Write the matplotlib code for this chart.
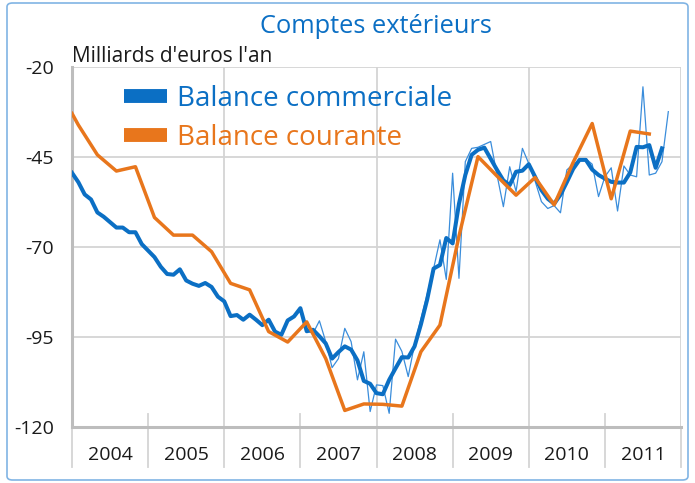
import matplotlib
matplotlib.use("Agg")
import matplotlib.pyplot as plt
from matplotlib.lines import Line2D
from matplotlib.patches import FancyBboxPatch

plt.rcParams["font.family"] = ["Open Sans", "DejaVu Sans"]

# ── Data (months counted from Jan 2004) ──────────────────────────────────────
years = ["2004", "2005", "2006", "2007", "2008", "2009", "2010", "2011"]
y_ticks = [-20, -45, -70, -95, -120]

# balance commerciale, 3-month smoothed, Jan 2004 .. Oct 2011
commerciale_lisse = [
    -49.4, -52.0, -55.4, -56.8, -60.4, -61.6, -63.1, -64.6, -64.6, -65.9,
    -65.9, -69.2, -71.0, -72.8, -75.5, -77.5, -77.7, -76.2, -79.3, -80.2,
    -80.8, -80.0, -81.1, -83.8, -85.1, -89.2, -88.9, -90.2, -88.8, -90.2,
    -91.7, -90.2, -93.5, -94.4, -90.4, -89.3, -87.0, -93.4, -93.0, -94.8,
    -96.8, -101.0, -99.2, -97.6, -98.5, -101.5, -107.2, -108.0, -110.6, -110.9,
    -106.9, -103.7, -100.6, -100.7, -97.6, -91.5, -84.5, -76.0, -75.0, -67.5,
    -69.0, -58.0, -50.0, -44.4, -43.0, -42.4, -45.5, -48.6, -51.5, -52.8,
    -49.1, -48.8, -47.0, -50.5, -54.2, -56.6, -58.0, -55.5, -52.0, -48.3,
    -45.8, -45.8, -48.5, -50.0, -51.0, -51.9, -52.1, -52.1, -49.3, -42.2,
    -42.3, -41.7, -48.0, -42.6,
]
# raw monthly balance, Feb 2007 .. Nov 2011
brut_debut = 37
commerciale_brute = [
    -93.2, -94.0, -90.5, -96.3, -103.5, -101.0, -92.6, -96.3, -106.9, -99.1,
    -115.7, -108.3, -108.5, -116.2, -95.6, -99.0, -106.0, -97.0, -90.0, -83.0,
    -76.0, -68.0, -79.0, -49.5, -78.7, -46.3, -42.6, -42.3, -41.5, -40.7,
    -50.0, -58.8, -47.7, -54.6, -42.6, -46.8, -51.7, -57.4, -59.3, -58.5,
    -60.5, -48.6, -47.0, -46.0, -45.5, -47.0, -56.0, -50.5, -48.0, -60.0,
    -47.5, -50.0, -50.5, -25.5, -50.0, -49.5, -46.3, -32.4,
]
# balance courante, quarterly points
courante_mois = [0, 1, 4, 7, 10, 13, 16, 19, 22, 25, 28, 31, 34, 37, 40, 43,
                 46, 49, 52, 55, 58, 61, 64, 67, 70, 73, 76, 79, 82, 85, 88, 91]
courante = [-32.9, -36.1, -44.4, -48.9, -47.7, -61.8, -66.7, -66.7, -71.3, -80.1,
            -81.9, -93.5, -96.4, -90.8, -101.0, -115.4, -113.6, -113.7, -114.2, -99.1,
            -91.7, -67.0, -44.9, -50.3, -55.6, -50.7, -58.3, -46.5, -35.7, -56.6,
            -37.8, -38.6]

BLUE = "#0B6FC4"
BLUE_THIN = "#3A8DDB"
ORANGE = "#E8761C"
GRID = "#D4D4D4"
AXIS = "#BDBDBD"

# ── Plot ──────────────────────────────────────────────────────────────────────
fig = plt.figure(figsize=(6.95, 4.83), dpi=100)
ax = fig.add_axes([72 / 695, 1 - 427 / 483, 609 / 695, 360 / 483])

x_lisse = list(range(len(commerciale_lisse)))
x_brut = list(range(brut_debut, brut_debut + len(commerciale_brute)))

ax.plot(x_brut, commerciale_brute, color=BLUE_THIN, lw=0.9, zorder=3)
ax.plot(x_lisse, commerciale_lisse, color=BLUE, lw=2.9, zorder=4,
        solid_joinstyle="round")
ax.plot(courante_mois, courante, color=ORANGE, lw=2.5, zorder=5,
        solid_joinstyle="round")

n_months = 12 * len(years)
ax.set_xlim(0, n_months)
ax.set_ylim(-120, -20)

# grid: horizontal lines, vertical every two years
for v in y_ticks[:-1]:
    ax.axhline(v, color=GRID, lw=1.3, zorder=1)
for m in range(24, n_months + 1, 24):
    ax.axvline(m, color=GRID, lw=1.3, zorder=1)

for s in ax.spines.values():
    s.set_visible(False)
ax.axhline(-120, color=AXIS, lw=2.2, zorder=2, clip_on=False)
ax.axvline(0, color=AXIS, lw=2.2, zorder=2, clip_on=False)

# year separators below the axis
for i in range(len(years) + 1):
    m = 12 * i
    top = 0.0 if i % 2 == 0 else 0.036
    ax.plot([m, m], [-0.111, top], transform=ax.get_xaxis_transform(),
            color=GRID, lw=1.3, clip_on=False, zorder=1)

ax.set_yticks(y_ticks)
ax.set_yticklabels([str(v) for v in y_ticks], fontsize=14, color="#1a1a1a")
ax.set_xticks([12 * i + 6 for i in range(len(years))])
ax.set_xticklabels(years, fontsize=14, color="#1a1a1a")
ax.tick_params(axis="y", length=0, pad=13)
ax.tick_params(axis="x", length=0, pad=14)

# legend
handles = [Line2D([], [], color=BLUE, lw=10, solid_capstyle="butt"),
           Line2D([], [], color=ORANGE, lw=10, solid_capstyle="butt")]
leg = ax.legend(handles, ["Balance commerciale", "Balance courante"],
                loc="upper left", bbox_to_anchor=(124 / 695, 1 - 85 / 483),
                bbox_transform=fig.transFigure, frameon=False, fontsize=20,
                handlelength=1.55, handletextpad=0.35, labelspacing=0.4,
                borderpad=0, borderaxespad=0)
for txt, c in zip(leg.get_texts(), [BLUE, ORANGE]):
    txt.set_color(c)

fig.text(376 / 695, 1 - 33 / 483, "Comptes extérieurs", color=BLUE,
         fontsize=18.3, ha="center", va="baseline")
fig.text(72 / 695, 1 - 62 / 483, "Milliards d'euros l'an", color="#1a1a1a",
         fontsize=15, ha="left", va="baseline")

frame = FancyBboxPatch((7 / 695, 3 / 483), 681 / 695, 477 / 483,
                       boxstyle="round,pad=0,rounding_size=0.008",
                       transform=fig.transFigure, facecolor="none",
                       edgecolor="#80B4E4", lw=1.2)
fig.patches.append(frame)

fig.savefig("out.png", dpi=100)
